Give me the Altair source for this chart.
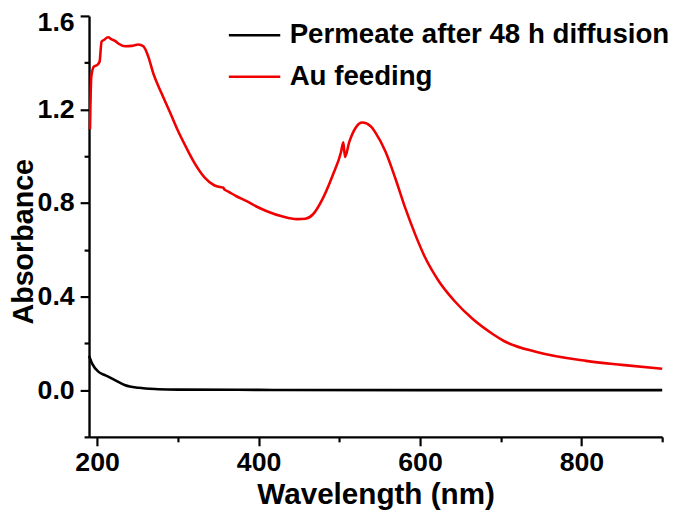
import altair as alt
import pandas as pd

# Au feeding (red)
au_wl = [191.2, 192.8, 196.1, 200.2, 203.1, 205.5, 208.4, 213.6, 218.0, 222.7, 226.7,
         234.9, 243.0, 251.2, 257.3, 263.4, 269.6, 279.7, 290.0, 300.0, 310.0, 320.0,
         333.0, 345.0, 352.0, 356.0, 358.0, 362.0, 372.0, 385.9, 398.0, 410.3, 430.0,
         447.1, 458.0, 467.5, 479.8, 492.0, 502.2, 505.0, 507.1, 512.3, 520.5, 528.7,
         538.9, 545.0, 557.2, 569.5, 581.7, 593.9, 606.2, 622.5, 643.0, 665.0, 690.0,
         704.0, 744.5, 805.7, 850.0, 900.0]
au_abs = [1.115, 1.34, 1.384, 1.39, 1.405, 1.49, 1.497, 1.509, 1.50, 1.492, 1.481,
          1.47, 1.472, 1.478, 1.47, 1.426, 1.354, 1.27, 1.19, 1.11, 1.04, 0.975,
          0.91, 0.876, 0.868, 0.866, 0.857, 0.850, 0.830, 0.807, 0.784, 0.765, 0.742,
          0.731, 0.733, 0.752, 0.821, 0.92, 1.018, 1.06, 0.997, 1.06, 1.123, 1.144,
          1.128, 1.10, 1.02, 0.905, 0.779, 0.667, 0.568, 0.47, 0.38, 0.305, 0.24,
          0.21, 0.163, 0.125, 0.108, 0.091]

# Permeate after 48 h diffusion (black)
pm_wl = [190.0, 194.0, 202.2, 210.4, 222.7, 234.9, 251.2, 275.7, 300.0, 400.0, 600.0, 900.0]
pm_abs = [0.147, 0.112, 0.077, 0.063, 0.042, 0.021, 0.010, 0.004, 0.002, 0.001, 0.0, 0.0]

series = ["Permeate after 48 h diffusion", "Au feeding"]
colors = ["#000000", "#f00000"]

df = pd.concat([
    pd.DataFrame({"wl": pm_wl, "abs": pm_abs, "s": series[0], "o": 0}),
    pd.DataFrame({"wl": au_wl, "abs": au_abs, "s": series[1], "o": 1}),
])

x_vals = [200, 300, 400, 500, 600, 700, 800, 900]
y_vals = [-0.2, 0.0, 0.2, 0.4, 0.6, 0.8, 1.0, 1.2, 1.4, 1.6]

FONT = "Liberation Sans"
PLOT_TOP = 13
PLOT_H = 426

chart = alt.Chart(df).mark_line(strokeWidth=2.6, interpolate="monotone").encode(
    x=alt.X("wl:Q", scale=alt.Scale(domain=[190, 900], nice=False, zero=False),
            axis=alt.Axis(values=x_vals, title="Wavelength (nm)",
                          labelExpr="datum.value % 200 === 0 ? datum.label : ''",
                          format="d",
                          tickSize={"condition": {"test": "datum.value % 200 === 0", "value": 9}, "value": 5},
                          labelPadding=4, titleY=67, titleBaseline="alphabetic",
                          titleFontSize=30)),
    y=alt.Y("abs:Q", scale=alt.Scale(domain=[-0.2, 1.6], nice=False, zero=False),
            axis=alt.Axis(values=y_vals, title="Absorbance",
                          labelExpr="abs(round(datum.value*10)) % 4 === 0 ? format(datum.value, '.1f') : ''",
                          tickSize={"condition": {"test": "abs(round(datum.value*10)) % 4 === 0", "value": 9}, "value": 5},
                          labelOffset={"condition": {"test": "datum.value > 1.55", "value": 7}, "value": 0},
                          labelPadding=6, titleX=-57, titleY=241 - PLOT_TOP,
                          titleBaseline="alphabetic", titleFontSize=29)),
    color=alt.Color("s:N", scale=alt.Scale(domain=series, range=colors),
                    legend=alt.Legend(title=None, orient="none", legendX=140, legendY=-8,
                                      symbolType="stroke", symbolSize=2704,
                                      symbolStrokeWidth=2.6, labelFontSize=28,
                                      labelFont=FONT, labelFontWeight="bold",
                                      labelColor="black", labelOffset=8,
                                      labelLimit=0, rowPadding=-7)),
    order="o:Q",
    detail="s:N",
).properties(
    width=580, height=PLOT_H,
    autosize=alt.AutoSizeParams(type="none"),
    padding={"left": 82, "top": PLOT_TOP - 8, "right": 15, "bottom": 512 - PLOT_TOP - PLOT_H},
    background="white",
).configure_view(stroke=None).configure_axis(
    domainColor="black", domainWidth=2.4, tickColor="black", tickWidth=2.2,
    labelFont=FONT, labelFontWeight="bold", labelFontSize=27, labelColor="black",
    titleFont=FONT, titleFontWeight="bold", titleColor="black",
    grid=False, labelFlush=False, labelOverlap=False,
)

chart.save("out.html", embed_options={"renderer": "svg", "actions": False})
